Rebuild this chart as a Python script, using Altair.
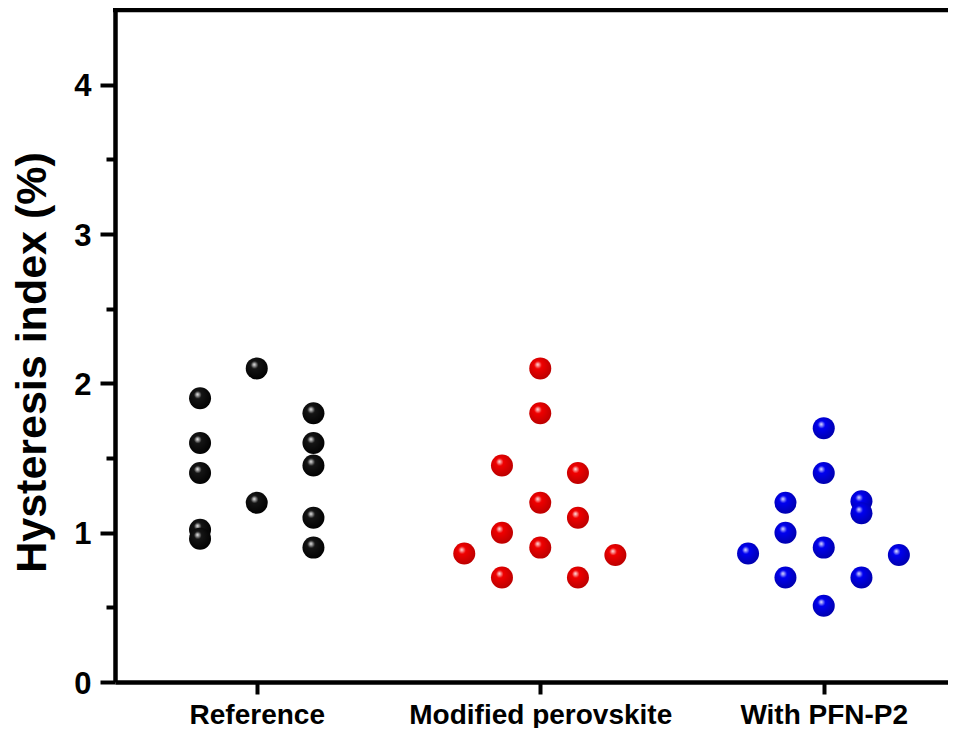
import altair as alt
import pandas as pd

categories = ["Reference", "Modified perovskite", "With PFN-P2"]
colors_body = ["#151515", "#f00000", "#0000f0"]
colors_light = ["#eeeeee", "#ffe6e6", "#e6e6ff"]
colors_edge = ["#000000", "#b80000", "#0000a8"]

ref_offset = [-0.2, -0.2, -0.2, -0.2, -0.2, 0.0, 0.0, 0.2, 0.2, 0.2, 0.2, 0.2]
ref_value = [1.90, 1.60, 1.40, 1.02, 0.96, 2.10, 1.20, 1.80, 1.60, 1.45, 1.10, 0.90]

mod_offset = [0.0, 0.0, 0.0, 0.0, -0.135, -0.135, -0.135, 0.133, 0.133, 0.133, -0.268, 0.265]
mod_value = [2.10, 1.80, 1.20, 0.90, 1.45, 1.00, 0.70, 1.40, 1.10, 0.70, 0.86, 0.85]

pfn_offset = [0.0, 0.0, 0.0, 0.0, -0.135, -0.135, -0.135, 0.133, 0.133, 0.133, -0.267, 0.265]
pfn_value = [1.70, 1.40, 0.90, 0.51, 1.20, 1.00, 0.70, 1.21, 1.13, 0.70, 0.86, 0.85]

y_ticks = [0, 0.5, 1, 1.5, 2, 2.5, 3, 3.5, 4]
x_ticks = [1, 2, 3]

groups = [(ref_offset, ref_value), (mod_offset, mod_value), (pfn_offset, pfn_value)]
rows = []
for i, (offs, vals) in enumerate(groups):
    for o, v in zip(offs, vals):
        rows.append({"group": categories[i], "pos": i + 1 + o, "hi": v})
df = pd.DataFrame(rows)

W, H = 833, 672
x_domain = [0.5, 0.5 + W / 283.5]

label_expr = "[" + ",".join("'" + c + "'" for c in categories) + "][datum.value - 1]"

x_enc = alt.X(
    "pos:Q",
    scale=alt.Scale(domain=x_domain, nice=False, zero=False),
    axis=alt.Axis(
        values=x_ticks,
        labelExpr=label_expr,
        title=None,
        grid=False,
        domainColor="black",
        domainWidth=4.5,
        tickColor="black",
        tickWidth=4,
        tickSize=12,
        labelFont="Liberation Sans",
        labelFontWeight="bold",
        labelFontSize=28,
        labelColor="black",
        labelBaseline="alphabetic",
        labelPadding=29,
        labelFlush=False,
        labelOverlap=False,
        labelLimit=0,
    ),
)

y_enc = alt.Y(
    "hi:Q",
    scale=alt.Scale(domain=[0, 4.5], nice=False),
    axis=alt.Axis(
        values=y_ticks,
        labelExpr="datum.value % 1 === 0 ? format(datum.value, 'd') : ''",
        title="Hysteresis index (%)",
        grid=False,
        domainColor="black",
        domainWidth=4.5,
        tickColor="black",
        tickWidth=4,
        tickSize={"condition": {"test": "datum.value % 1 === 0", "value": 15}, "value": 9},
        labelFont="Liberation Sans",
        labelFontWeight="bold",
        labelFontSize=31,
        labelColor="black",
        labelPadding=9,
        labelBaseline="middle",
        labelOffset=2,
        titleFont="Liberation Sans",
        titleFontWeight="bold",
        titleFontSize=43,
        titleColor="black",
        titleAngle=-90,
        titleAlign="center",
        titleBaseline="alphabetic",
        titleX=-70,
        titleY=352,
    ),
)

layers = []
for i, cat in enumerate(categories):
    grad = alt.RadialGradient(
        gradient="radial",
        stops=[
            alt.GradientStop(offset=0.0, color=colors_light[i]),
            alt.GradientStop(offset=0.28, color=colors_body[i]),
            alt.GradientStop(offset=1.0, color=colors_edge[i]),
        ],
        x1=0.38, y1=0.32, r1=0.0,
        x2=0.45, y2=0.42, r2=0.62,
    )
    layer = (
        alt.Chart(df)
        .transform_filter(alt.datum.group == cat)
        .mark_circle(size=484, opacity=1, fill=grad, stroke=None)
        .encode(x=x_enc, y=y_enc)
    )
    layers.append(layer)

top_border = (
    alt.Chart(pd.DataFrame({"k": [0]}))
    .mark_rule(color="black", strokeWidth=4.5)
    .encode(x=alt.value(-2), x2=alt.value(W), y=alt.value(0))
)

chart = (
    alt.layer(*layers, top_border)
    .properties(
        width=W,
        height=H,
        autosize=alt.AutoSizeParams(type="none"),
        padding={"left": 107, "top": 2, "right": 0, "bottom": 46},
        background="white",
    )
    .configure_view(stroke=None)
)

chart.save("out.html", embed_options={"renderer": "svg", "actions": False})
